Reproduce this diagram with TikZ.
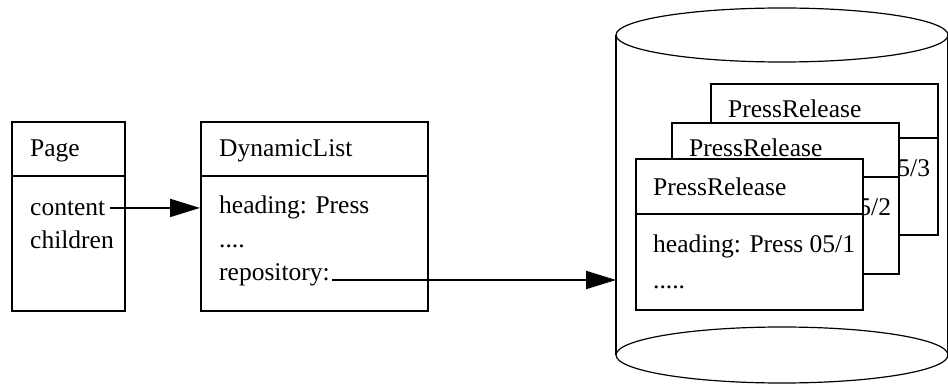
\documentclass[tikz,border=0pt]{standalone}
\usepackage{fontspec}
\setmainfont{Liberation Serif}
\usetikzlibrary{arrows.meta}
\begin{document}
\begin{tikzpicture}[x=1pt,y=-1pt,
  classbox/.style={draw, line width=1.9pt, fill=white, inner sep=0pt, anchor=north west,
    minimum width=227pt, minimum height=151pt},
  sepline/.style={line width=1.9pt},
  label/.style={anchor=base west, inner sep=0pt, font=\fontsize{25.5}{30}\selectfont},
  conn/.style={line width=1.9pt, -{Triangle[length=30pt,width=18pt]}},
  dbline/.style={line width=1.2pt}]
\useasboundingbox (0,0) rectangle (948,385);

% Page class
\node[classbox, minimum width=113pt, minimum height=189pt] (page) at (11,121) {};
\draw[sepline] ([yshift=-55pt]page.north west) -- ([yshift=-55pt]page.north east);
\node[label] (ptitle) at (30,157) {Page};
\node[label] (pcontent) at (30,215) {content};
\node[label] (pchildren) at (30,248) {children};

% DynamicList class
\node[classbox, minimum height=189pt] (dl) at (200,121) {};
\draw[sepline] ([yshift=-55pt]dl.north west) -- ([yshift=-55pt]dl.north east);
\node[label] (dtitle) at (219,157) {DynamicList};
\node[label] (dhead) at (219,213) {heading: Press};
\node[label] (ddots) at (219,247) {....};
\node[label] (drepo) at (219,280) {repository:};

% repository cylinder
\draw[dbline] (782,35) ellipse [x radius=166pt, y radius=27pt];
\draw[dbline] (782,355) ellipse [x radius=166pt, y radius=28pt];
\draw[dbline] (616,35) -- (616,355);
\draw[dbline] (948,35) -- (948,355);
\coordinate (dbin) at (616,280);

% stacked PressRelease objects, back to front
\node[classbox] (pr3) at (710,83) {};
\draw[sepline] ([yshift=-55pt]pr3.north west) -- ([yshift=-55pt]pr3.north east);
\node[label] (pr3title) at (728,118) {PressRelease};
\node[label] (pr3head) at (728,177) {heading: Press 05/3};

\node[classbox] (pr2) at (671,122) {};
\draw[sepline] ([yshift=-55pt]pr2.north west) -- ([yshift=-55pt]pr2.north east);
\node[label] (pr2title) at (689,157) {PressRelease};
\node[label] (pr2head) at (689,215) {heading: Press 05/2};

\node[classbox] (pr1) at (635,158) {};
\draw[sepline] ([yshift=-56pt]pr1.north west) -- ([yshift=-56pt]pr1.north east);
\node[label] (pr1title) at (653,195) {PressRelease};
\node[label] (pr1head) at (653,252) {heading: Press 05/1};
\node[label] (pr1dots) at (653,288) {.....};

% connectors
\draw[conn] ([xshift=5pt]pcontent.east) -- (pcontent.east -| dl.west);
\draw[conn] ([xshift=2pt]drepo.base east) -- (dbin);
\end{tikzpicture}
\end{document}
